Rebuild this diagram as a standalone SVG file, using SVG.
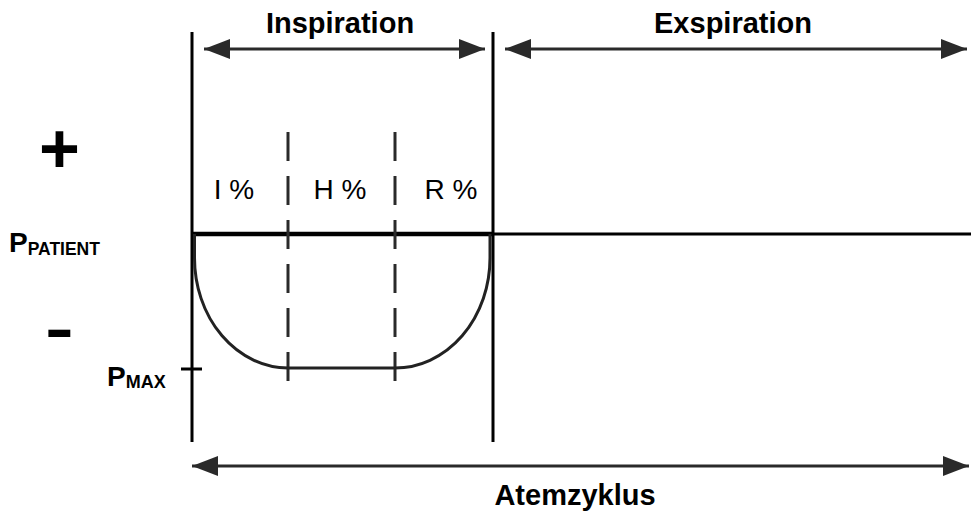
<svg xmlns="http://www.w3.org/2000/svg" width="971" height="512" viewBox="0 0 971 512">
<style>
.t{font-family:"Liberation Sans",Arial,sans-serif;fill:#000}
.b{font-weight:bold}
.ax{stroke:#000;stroke-width:3;fill:none}
.arr{stroke:#2a2a2a;stroke-width:3;fill:none}
.dash{stroke:#2a2a2a;stroke-width:3;stroke-dasharray:29 15;fill:none}
.curve{stroke:#222;stroke-width:3;fill:none}
</style>
<defs>
<marker id="ah" viewBox="0 0 26 20" refX="26" refY="10" markerWidth="26" markerHeight="20" markerUnits="userSpaceOnUse" orient="auto-start-reverse">
<path d="M0,0 L26,10 L0,20 Z" fill="#2a2a2a"/>
</marker>
</defs>
<g id="axes">
<line class="ax" x1="192" y1="32" x2="192" y2="442"/>
<line class="ax" x1="493" y1="32" x2="493" y2="442"/>
<line x1="192" y1="234" x2="493" y2="234" stroke="#000" stroke-width="4.5"/>
<line x1="493" y1="234" x2="971" y2="234" stroke="#000" stroke-width="3"/>
<line class="ax" x1="181" y1="369" x2="202" y2="369"/>
</g>
<g id="connectors">
<line class="arr" x1="204" y1="49" x2="485" y2="49" marker-start="url(#ah)" marker-end="url(#ah)"/>
<line class="arr" x1="505" y1="49" x2="967" y2="49" marker-start="url(#ah)" marker-end="url(#ah)"/>
<line class="arr" x1="192" y1="466" x2="969" y2="466" marker-start="url(#ah)" marker-end="url(#ah)"/>
</g>
<g id="dividers">
<line class="dash" x1="288" y1="132" x2="288" y2="382"/>
<line class="dash" x1="395" y1="132" x2="395" y2="382"/>
</g>
<g id="pressure-curve">
<path class="curve" d="M194.5,234 V258 A94,110 0 0 0 288,368 H395 A95,110 0 0 0 490,258 V234"/>
</g>
<g id="labels">
<text class="t b" x="340" y="33" font-size="29" text-anchor="middle">Inspiration</text>
<text class="t b" x="733" y="33" font-size="29" text-anchor="middle">Exspiration</text>
<text class="t b" x="575" y="505" font-size="29" text-anchor="middle">Atemzyklus</text>
<text class="t" x="234" y="199" font-size="28" text-anchor="middle">I %</text>
<text class="t" x="340" y="199" font-size="28" text-anchor="middle">H %</text>
<text class="t" x="451" y="199" font-size="28" text-anchor="middle">R %</text>
<text class="t b" x="59.5" y="173" font-size="70" text-anchor="middle">+</text>
<text class="t b" transform="translate(59.5,349) scale(1.2,0.85)" x="0" y="0" font-size="72" text-anchor="middle">-</text>
<text class="t b" x="9" y="252" font-size="28">P<tspan font-size="17.5" dy="3">PATIENT</tspan></text>
<text class="t b" x="107" y="386" font-size="28">P<tspan font-size="18" dy="2">MAX</tspan></text>
</g>
</svg>
